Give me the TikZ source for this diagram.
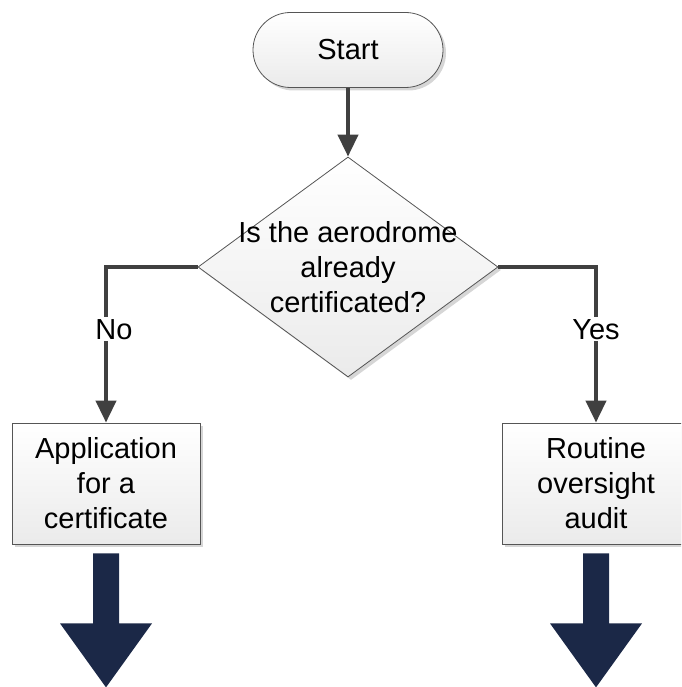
\documentclass[tikz,border=0pt]{standalone}
\usepackage{fontspec}
\setmainfont{Liberation Sans}
\usetikzlibrary{shapes.geometric,shadows,arrows.meta}
\definecolor{linegray}{HTML}{404040}
\definecolor{bordergray}{HTML}{555555}
\definecolor{navy}{HTML}{1B2847}
\tikzset{
  box/.style={draw=bordergray, line width=0.8pt, top color=white, bottom color=gray!16,
    drop shadow={shadow xshift=3pt, shadow yshift=-3pt, fill=black!16, opacity=1},
    align=center, font=\fontsize{29}{35}\selectfont, inner sep=0pt},
  flow/.style={draw=linegray, line width=4pt, -{Triangle[length=22pt,width=20pt]}},
  lbl/.style={fill=white, font=\fontsize{29}{35}\selectfont, inner sep=2pt}
}
\begin{document}
\begin{tikzpicture}[x=1pt, y=1pt]
      \useasboundingbox (0, 0) rectangle (681, 687);
      \clip (0, 0) rectangle (681, 687);
      \node [box, rounded corners=37.5pt, minimum width=190pt, minimum height=75pt] (start) at (348, 637) {Start};
      \node [box, diamond, minimum width=300pt, minimum height=220pt] (q) at (348, 420) {};
      \node [align=center, font=\fontsize{29}{35}\selectfont] (qtext) at (q) {Is the aerodrome\\already\\certificated?};
      \node [box, minimum width=188pt, minimum height=121pt] (app) at (106, 203.5) {Application\\for a\\certificate};
      \node [box, minimum width=188pt, minimum height=121pt] (audit) at (596, 203.5) {Routine\\oversight\\audit};
      \draw [flow] (start) -- (q);
      \draw [flow] (q.west) -| node [lbl, pos=0.7, xshift=8pt] (no) {No} (app.north);
      \draw [flow] (q.east) -| node [lbl, pos=0.7] (yes) {Yes} (audit.north);
      \foreach \b in {app, audit}
        \fill [navy] ([shift={(-13, -9)}]\b.south) -- ++(26, 0) -- ++(0, -70) -- ++(33, 0)
          -- ++(-46, -64) -- ++(-46, 64) -- ++(33, 0) -- cycle;
    \end{tikzpicture}
\end{document}
